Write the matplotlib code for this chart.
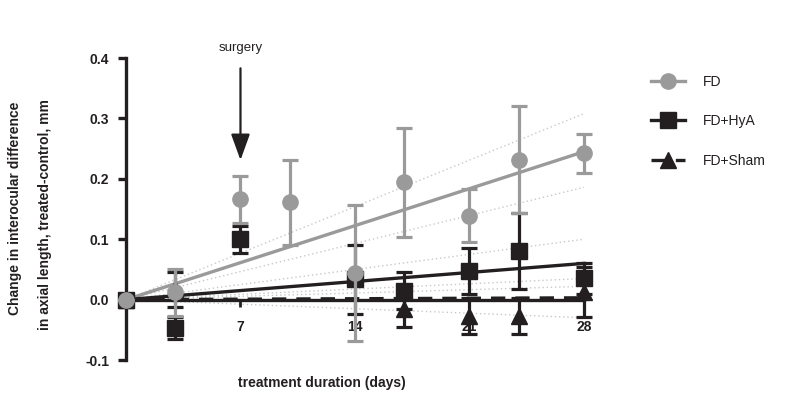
import matplotlib.pyplot as plt
from matplotlib.lines import Line2D
from matplotlib.ticker import FormatStrFormatter

plt.rcParams['font.family'] = ['Liberation Sans', 'DejaVu Sans']
plt.rcParams['axes.unicode_minus'] = False

# mean +/- SEM of the interocular difference (mm) per treatment day
fd_days = [0, 3, 7, 10, 14, 17, 21, 24, 28]
fd_mean = [0.0, 0.012, 0.166, 0.161, 0.044, 0.194, 0.139, 0.232, 0.242]
fd_sem = [0.0, 0.039, 0.039, 0.070, 0.113, 0.090, 0.044, 0.089, 0.033]

hya_days = [0, 3, 7, 14, 17, 21, 24, 28]
hya_mean = [0.0, -0.047, 0.100, 0.034, 0.015, 0.047, 0.080, 0.035]
hya_sem = [0.0, 0.018, 0.022, 0.057, 0.031, 0.038, 0.063, 0.025]

sham_days = [0, 3, 17, 21, 24, 28]
sham_mean = [0.0, 0.017, -0.015, -0.027, -0.027, 0.013]
sham_sem = [0.0, 0.029, 0.031, 0.030, 0.030, 0.041]

# linear fits through the origin: fitted value and 95% band at day 28
fit_day = 28
fit_end = [0.245, 0.060, 0.003]
band_low = [0.186, 0.022, -0.030]
band_high = [0.308, 0.100, 0.035]

labels = ['FD', 'FD+HyA', 'FD+Sham']
colors = ['#9a9a9a', '#231f20', '#231f20']
markers = ['o', 's', '^']
styles = ['-', '-', (0, (4.3, 3))]

x_ticks = [7, 14, 21, 28]
y_ticks = [-0.1, 0.0, 0.1, 0.2, 0.3, 0.4]

fig = plt.figure(figsize=(8.09, 4.16), dpi=100)
ax = fig.add_axes([0.1355, 0.1055, 0.6268, 0.784])
ax.set_xlim(-1, 30)
ax.set_ylim(-0.12, 0.42)

# confidence bands (dotted) and fitted lines
for i in range(3):
    for edge in (band_low[i], band_high[i]):
        ax.plot([0, fit_day], [0, edge], color='#c8c8c8', lw=1.0,
                ls=(0, (1, 2)), zorder=1)
for i in range(3):
    ax.plot([0, fit_day], [0, fit_end[i]], color=colors[i], lw=2.4,
            ls=styles[i], zorder=3 if i == 2 else 2)

ebkw = dict(elinewidth=2.3, capsize=6, capthick=2.3, ms=11, ls='none',
            clip_on=False)
ax.errorbar(hya_days, hya_mean, yerr=hya_sem, marker='s', color=colors[1],
            zorder=4, **ebkw)
ax.errorbar(sham_days, sham_mean, yerr=sham_sem, marker='^', color=colors[2],
            zorder=4, **ebkw)
ax.errorbar(fd_days, fd_mean, yerr=fd_sem, marker='o', color=colors[0],
            zorder=5, **ebkw)

# axes drawn GraphPad style: y axis at day 0, x axis on the zero line
for side in ('top', 'right'):
    ax.spines[side].set_visible(False)
ax.spines['left'].set_position(('data', 0))
ax.spines['bottom'].set_position(('data', 0))
ax.spines['left'].set_bounds(-0.1, 0.4)
ax.spines['bottom'].set_bounds(0, 28)
for side in ('left', 'bottom'):
    ax.spines[side].set_linewidth(2.4)
    ax.spines[side].set_color('#231f20')
    ax.spines[side].set_zorder(2.5)

ax.set_yticks(y_ticks)
ax.yaxis.set_major_formatter(FormatStrFormatter('%.1f'))
ax.set_xticks(x_ticks)
ax.set_xticklabels([str(d) for d in x_ticks])
ax.tick_params(axis='y', length=6, width=2.4, color='#231f20', pad=6,
               labelsize=10)
ax.tick_params(axis='x', length=5, width=2.0, color='#231f20', pad=10,
               labelsize=10)
for lab in ax.get_xticklabels() + ax.get_yticklabels():
    lab.set_fontweight('bold')
    lab.set_color('#231f20')

# surgery marker at day 7
ax.text(7, 0.4165, 'surgery', ha='center', va='center', fontsize=9.5,
        color='#231f20')
ax.annotate('', xy=(7, 0.231), xytext=(7, 0.383),
            arrowprops=dict(arrowstyle='-|>,head_length=1.6,head_width=0.58',
                            mutation_scale=10, lw=1.6, color='#231f20',
                            shrinkA=0, shrinkB=0))

fig.text(0.398, 0.079, 'treatment duration (days)', ha='center', va='center',
         fontsize=10, fontweight='bold', color='#231f20')
fig.text(0.019, 0.50, 'Change in interocular difference', rotation=90,
         ha='center', va='center', fontsize=10, fontweight='bold',
         color='#231f20')
fig.text(0.056, 0.485, 'in axial length, treated-control, mm', rotation=90,
         ha='center', va='center', fontsize=10, fontweight='bold',
         color='#231f20')

handles = [Line2D([], [], color=colors[i], lw=2.4, ls=styles[i],
                  marker=markers[i], ms=11) for i in range(3)]
fig.legend(handles, labels, loc='upper left', bbox_to_anchor=(0.805, 0.8204),
           frameon=False, fontsize=10, handlelength=2.4, handletextpad=1.3,
           labelspacing=1.84, borderpad=0, borderaxespad=0,
           labelcolor='#231f20')

fig.savefig('out.png', dpi=100)
